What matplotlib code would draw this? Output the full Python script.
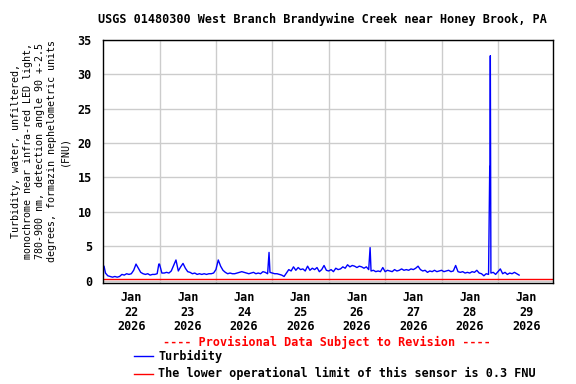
"""
USGS turbidity plot, West Branch Brandywine Creek near Honey Brook, PA.
"""
import numpy as np
import matplotlib
matplotlib.use("Agg")
from matplotlib import pyplot as plt
from matplotlib.lines import Line2D

# hourly readings from Jan 22 2026 00:00 (FNU)
turbidity = [
    2.1, 1.1, 0.7, 0.6, 0.5, 0.6, 0.5, 0.6, 0.9, 0.8, 1.0, 0.9,
    1.0, 1.5, 2.4, 1.8, 1.2, 1.0, 0.9, 1.0, 0.8, 0.9, 0.9, 1.0,
    2.4, 1.1, 1.1, 1.2, 1.1, 1.4, 2.2, 3.0, 1.4, 2.0, 2.5, 1.8,
    1.3, 1.2, 1.0, 1.1, 0.9, 1.0, 0.9, 1.0, 0.9, 1.0, 1.0, 1.1,
    1.6, 3.0, 2.1, 1.5, 1.2, 1.0, 1.1, 1.0, 1.0, 1.1, 1.2, 1.3,
    1.2, 1.1, 1.0, 1.1, 1.2, 1.0, 1.1, 1.0, 1.3, 1.2, 1.0, 1.2,
    1.1, 1.0, 1.0, 0.9, 0.8, 0.6, 1.1, 1.6, 1.4, 2.0, 1.5, 1.9,
    1.6, 1.7, 1.4, 2.1, 1.5, 1.8, 1.6, 1.9, 1.3, 1.6, 2.2, 1.5,
    1.4, 1.6, 1.3, 1.8, 1.6, 1.7, 2.0, 1.8, 2.3, 2.0, 2.2, 2.1,
    1.9, 2.1, 2.0, 1.8, 2.0, 1.6, 1.4, 1.5, 1.3, 1.4, 1.3, 1.9,
    1.3, 1.5, 1.4, 1.3, 1.6, 1.4, 1.5, 1.7, 1.5, 1.6, 1.5, 1.7,
    1.6, 1.8, 2.1, 1.6, 1.4, 1.5, 1.2, 1.4, 1.3, 1.5, 1.3, 1.4,
    1.5, 1.3, 1.4, 1.5, 1.3, 1.4, 2.2, 1.3, 1.2, 1.3, 1.1, 1.2,
    1.1, 1.3, 1.2, 1.5, 1.1, 1.0, 0.7, 1.0, 0.9, 1.1, 1.2, 0.9,
    1.3, 1.7, 1.0, 1.2, 0.9, 1.1, 1.0, 1.2, 1.0, 0.8,
]
# short spikes between the hourly readings
spike_hours = [0.4, 23.7, 70.6, 113.6, 164.5, 164.6, 164.75, 164.9]
spike_values = [2.1, 2.4, 4.1, 4.8, 16.6, 16.4, 32.7, 16.6]

lower_limit = 0.3
day_labels = ["Jan\n22\n2026", "Jan\n23\n2026", "Jan\n24\n2026", "Jan\n25\n2026",
              "Jan\n26\n2026", "Jan\n27\n2026", "Jan\n28\n2026", "Jan\n29\n2026"]
yticks = [0, 5, 10, 15, 20, 25, 30, 35]

hours = np.concatenate([np.arange(len(turbidity)), spike_hours])
values = np.concatenate([turbidity, spike_values])
order = np.argsort(hours)
hours, values = hours[order], values[order]

plt.rcParams["font.family"] = "DejaVu Sans Mono"
plt.rcParams["font.weight"] = "bold"
plt.rcParams["font.size"] = 8.5

fig = plt.figure(figsize=(5.76, 3.84), dpi=100)
ax = fig.add_axes([0.179, 0.263, 0.781, 0.633])

ax.plot(hours, values, color="#0000ff", lw=1)
ax.axhline(lower_limit, color="#ff0000", lw=1)

ax.set_xlim(0, 191.4)
ax.set_ylim(-0.35, 35)
ax.set_yticks(yticks)
ax.set_xticks(np.arange(8) * 24 + 12)
ax.set_xticklabels(day_labels, linespacing=1.15)
ax.set_xticks(np.arange(1, 8) * 24, minor=True)
ax.tick_params(which="both", length=0)
ax.tick_params(axis="y", pad=8)
ax.tick_params(axis="x", pad=6)
ax.grid(True, which="minor", axis="x", color="#cccccc", lw=1)
ax.grid(True, which="major", axis="y", color="#cccccc", lw=1)
for s in ax.spines.values():
    s.set_linewidth(1)

ax.set_ylabel("Turbidity, water, unfiltered,\n"
              "monochrome near infra-red LED light,\n"
              "780-900 nm, detection angle 90 +-2.5\n"
              "degrees, formazin nephelometric units\n"
              "(FNU)", fontsize=7.2, linespacing=1.25)
ax.yaxis.set_label_coords(-0.075, 0.545)

fig.text(0.560, 0.95, "USGS 01480300 West Branch Brandywine Creek near Honey Brook, PA",
         ha="center", va="center")
fig.text(0.568, 0.107, "---- Provisional Data Subject to Revision ----",
         ha="center", va="center", color="#ff0000")

fig.add_artist(Line2D([0.232, 0.265], [0.072, 0.072], color="#0000ff", lw=1))
fig.text(0.275, 0.072, "Turbidity", va="center")
fig.add_artist(Line2D([0.232, 0.265], [0.027, 0.027], color="#ff0000", lw=1))
fig.text(0.275, 0.027, "The lower operational limit of this sensor is 0.3 FNU", va="center")

fig.savefig("out.png", dpi=100)
